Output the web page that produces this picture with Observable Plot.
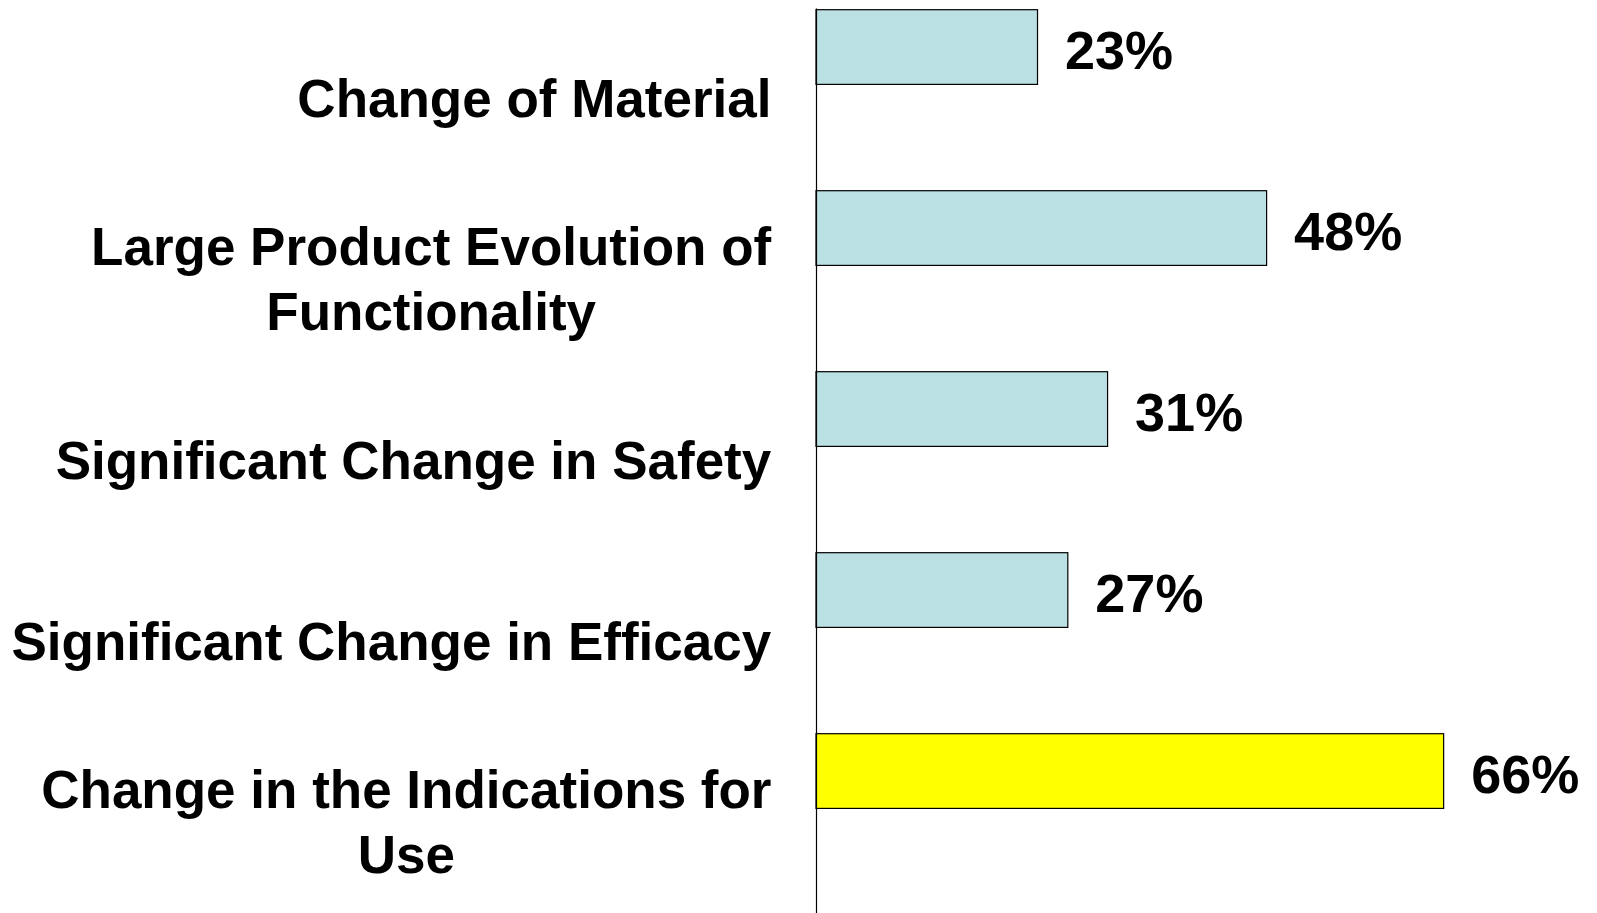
<!DOCTYPE html>
<html>
<head>
<meta charset="utf-8">
<script src="https://cdn.jsdelivr.net/npm/d3@7"></script>
<script src="https://cdn.jsdelivr.net/npm/@observablehq/plot@0.6"></script>
<style>
  html, body { margin: 0; padding: 0; background: #fff; }
  #chart svg { display: block; font-family: "Liberation Sans", Arial, sans-serif; }
</style>
</head>
<body>
<div id="chart"></div>
<script>
const categories = [
  "Change of Material",
  "Large Product Evolution of Functionality",
  "Significant Change in Safety",
  "Significant Change in Efficacy",
  "Change in the Indications for Use"
];
const labels = [
  "Change of Material",
  "Large Product Evolution of\nFunctionality",
  "Significant Change in Safety",
  "Significant Change in Efficacy",
  "Change in the Indications for\nUse"
];
// bar lengths (percent)
const values = [23.4, 47.6, 30.8, 26.6, 66.3];
// value labels as printed
const valueLabels = ["23%", "48%", "31%", "27%", "66%"];
const highlighted = [false, false, false, false, true];

const data = categories.map((c, i) => ({cat: c, label: labels[i], value: values[i], vlabel: valueLabels[i], hl: highlighted[i]}));

const chart = Plot.plot({
  width: 1597,
  height: 913,
  marginLeft: 816,
  marginRight: 0,
  marginTop: 8.5,
  marginBottom: 0,
  style: {fontFamily: "'Liberation Sans', Arial, sans-serif", background: "#fff"},
  x: {domain: [0, 82.5], axis: null},
  y: {domain: categories, range: [8.5, 915], padding: 0, axis: null},
  marks: [
    Plot.barX(data, {
      x: "value", y: "cat",
      fill: d => d.hl ? "#ffff00" : "#bbe0e3",
      stroke: "#000", strokeWidth: 1.2,
      insetTop: 0.7, insetBottom: 105.6
    }),
    Plot.ruleX([0], {stroke: "#000", strokeWidth: 1.2}),
    Plot.text(data, {
      x: "value", y: "cat", text: "vlabel",
      textAnchor: "start", dx: 27, dy: -48.5,
      fontSize: 54, fontWeight: "bold", fill: "#000"
    }),
    Plot.text(data, {
      x: 0, y: "cat", text: "label",
      textAnchor: "end", dx: -45, dy: -4, lineHeight: 1.23,
      fontSize: 53, fontWeight: "bold", fill: "#000",
      className: "catlabels"
    })
  ]
});
document.getElementById("chart").appendChild(chart);

// center multi-line labels within their right-aligned block
chart.querySelectorAll("g.catlabels text").forEach(t => {
  const w = t.getBBox().width;
  t.setAttribute("text-anchor", "middle");
  const tr = t.getAttribute("transform") || "";
  t.setAttribute("transform", tr + ` translate(${-w / 2},0)`);
});
</script>
</body>
</html>
